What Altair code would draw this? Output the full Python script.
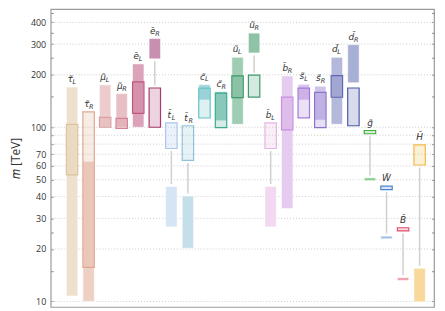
import altair as alt
import pandas as pd

# --- data -------------------------------------------------------------------
glyphs = ["τ\u0303", "τ\u0303", "μ\u0303", "μ\u0303", "e\u0303", "e\u0303",
          "t\u0303", "t\u0303", "c\u0303", "c\u0303", "u\u0303", "u\u0303",
          "b\u0303", "b\u0303", "s\u0303", "s\u0303", "d\u0303", "d\u0303",
          "g\u0303", "W\u0303", "B\u0303", "H\u0303"]
subs = ["L", "R", "L", "R", "L", "R", "L", "R", "L", "R", "L", "R",
        "L", "R", "L", "R", "L", "R", "", "", "", ""]

# filled (solid) ranges [TeV]
fill_lo = [10.75, 10.0, 100, 100, 100, 247, 26.8, 20.2, 143.5, 109, 104, 267,
           26.8, 34.2, 143.5, 110, 104, 180, 49.4, 22.9, 13.2, 9.95]
fill_hi = [170, 63.7, 175, 156, 231, 323, 45.7, 40.3, 176, 160, 252, 347,
           45.7, 197, 176.5, 172, 252, 298, 51.2, 23.7, 13.7, 15.5]
# hatched ranges [TeV]
hatch_lo = [53.3, 15.7, 100, 98.5, 120, 100, 75.5, 64.5, 113, 99.5, 148, 149,
            75.5, 96.6, 113.3, 99.6, 148.7, 102, 91.8, 43.9, 25.4, 60.7]
hatch_hi = [104, 122.5, 114, 112.5, 182, 168, 106, 102, 167.6, 157, 197, 199,
            106, 149, 167.6, 158.6, 198, 168, 95.8, 45.9, 26.5, 79.3]

light_colors = ["#eee0cc", "#efd0c4", "#eccccc", "#e8bfc6", "#dba3b9", "#c98fb0",
                "#d6e4f5", "#c5dfea", "#a8d8dc", "#9ed3c6", "#9fcdb4", "#8ec3a5",
                "#f2d8f0", "#e5cbef", "#d9c3ee", "#cfc3ea", "#b4b8da", "#a7afd4",
                "#86cd86", "#9dbde3", "#ef9fb0", "#f9d89c"]
dark_colors = ["#dcc39c", "#e0a890", "#dc9e9e", "#d48494", "#c0587e", "#a8386e",
               "#a8c6ee", "#90c2dc", "#66c0c8", "#3fa890", "#3d9a6c", "#3d9a6c",
               "#e8b4e4", "#c88ee0", "#a678d8", "#8a72cc", "#5f67b4", "#4b5aa8",
               "#3fae3f", "#4a86cc", "#e0506e", "#f3b94a"]

grid_vals = [10, 20, 30, 40, 50, 60, 70, 80, 90, 100, 200, 300, 400]
tick_vals = [10, 15, 20, 25, 30, 40, 50, 60, 70, 80, 90, 100, 150, 200, 250,
             300, 350, 400, 450]
label_vals = [10, 20, 30, 40, 50, 60, 70, 100, 200, 300, 400]

# --- tables -----------------------------------------------------------------
df = pd.DataFrame({
    "i": list(range(len(glyphs))), "glyph": glyphs, "sub": subs,
    "fill_lo": fill_lo, "fill_hi": fill_hi,
    "hatch_lo": hatch_lo, "hatch_hi": hatch_hi,
    "light": light_colors, "dark": dark_colors,
})
df["top"] = df[["fill_hi", "hatch_hi"]].max(axis=1)
w_lo, w_hi = [], []
for a_lo, a_hi, b_lo, b_hi in zip(fill_lo, fill_hi, hatch_lo, hatch_hi):
    if b_lo > a_hi:
        w_lo.append(a_hi); w_hi.append(b_lo)
    elif a_lo > b_hi:
        w_lo.append(b_hi); w_hi.append(a_lo)
    else:
        w_lo.append(None); w_hi.append(None)
df["w_lo"] = w_lo
df["w_hi"] = w_hi
whisk_df = df.dropna(subset=["w_lo"])

yscale = alt.Scale(type="log", domain=[9.3, 477], nice=False)
xscale = alt.Scale(domain=[-0.99, 21.57], nice=False, zero=False)
X = alt.X("i:Q", scale=xscale, axis=None)

label_expr = ("indexof([" + ",".join(str(v) for v in label_vals)
              + "], datum.value) >= 0 ? datum.label : ''")

left_axis = alt.Axis(values=tick_vals, labelExpr=label_expr, labelOverlap=False,
                     labelFlush=False, grid=False, domain=False, tickSize=2.5,
                     tickColor="#888888", offset=-2.5, labelPadding=5,
                     labelFont="Open Sans", labelFontSize=9, labelColor="#333333",
                     title="𝑚 [TeV]", titleFont="Open Sans", titleFontSize=12,
                     titleFontWeight="normal", titleColor="#333333", titlePadding=8)
right_axis = alt.Axis(orient="right", values=tick_vals, labels=False,
                      domain=False, grid=False, tickSize=2.5, tickColor="#888888",
                      offset=-2.5, title=None)

grid = alt.Chart(pd.DataFrame({"g": grid_vals})).mark_rule(
    color="#cccccc", strokeDash=[1, 2], strokeWidth=1
).encode(y=alt.Y("g:Q", scale=yscale, axis=left_axis))

base = alt.Chart(df)

filled = base.mark_bar(size=11.5, stroke="white", strokeWidth=0.8,
                       strokeOpacity=0.7).encode(
    x=X,
    y=alt.Y("fill_lo:Q", scale=yscale, axis=right_axis),
    y2="fill_hi:Q",
    fill=alt.Fill("light:N", scale=None),
)

hatched = base.mark_bar(size=11.5, fillOpacity=0.22, strokeWidth=1.2).encode(
    x=X,
    y=alt.Y("hatch_lo:Q", scale=yscale, axis=None),
    y2="hatch_hi:Q",
    fill=alt.Fill("dark:N", scale=None),
    stroke=alt.Stroke("dark:N", scale=None),
)

whisk = alt.Chart(whisk_df).mark_rule(
    color="#d0d0d0", strokeWidth=1.5, yOffset=-2.5, y2Offset=2.5
).encode(x=X, y=alt.Y("w_lo:Q", scale=yscale, axis=None), y2="w_hi:Q")

lab_sub_main = base.transform_filter("datum.sub != ''").mark_text(
    font="DejaVu Sans", fontStyle="italic", fontSize=9, baseline="alphabetic",
    align="center", dx=-2, dy=-5, color="#333333"
).encode(x=X, y=alt.Y("top:Q", scale=yscale, axis=None), text="glyph:N")

lab_nosub_main = base.transform_filter("datum.sub == ''").mark_text(
    font="DejaVu Sans", fontStyle="italic", fontSize=9, baseline="alphabetic",
    align="center", dx=0, dy=-5, color="#333333"
).encode(x=X, y=alt.Y("top:Q", scale=yscale, axis=None), text="glyph:N")

lab_sub = base.transform_filter("datum.sub != ''").mark_text(
    font="DejaVu Sans", fontStyle="italic", fontSize=6.5, baseline="alphabetic",
    align="left", dx=0.5, dy=-3, color="#333333"
).encode(x=X, y=alt.Y("top:Q", scale=yscale, axis=None), text="sub:N")

chart = alt.layer(
    grid, filled, hatched, whisk, lab_sub_main, lab_nosub_main, lab_sub
).resolve_axis(y="independent").resolve_scale(y="shared").properties(
    width=386, height=300,
    padding={"left": 1, "top": 0, "right": 2, "bottom": 0},
).configure_view(stroke="#9a9a9a", strokeWidth=1.2)

chart.save("out.html", embed_options={"renderer": "svg", "actions": False})
